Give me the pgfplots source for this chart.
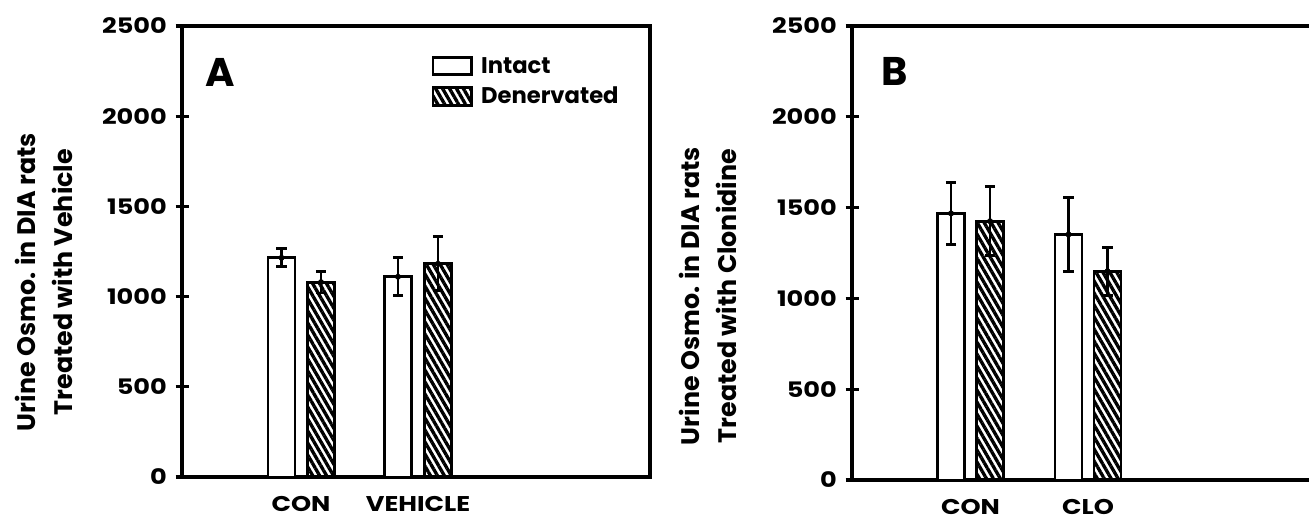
\documentclass[border=0pt]{standalone}
\usepackage{fontspec}
\setmainfont{Poppins}
\newfontfamily\tickfont{Poppins}[FakeStretch=1.2]
\usepackage{pgfplots}
\pgfplotsset{compat=1.18}
\usetikzlibrary{patterns.meta}

\pgfplotsset{
  panel/.style={
    scale only axis,
    ymin=0, ymax=2500,
    ytick={0,500,1000,1500,2000,2500},
    /pgf/number format/1000 sep={},
    /pgf/number format/assume math mode=true,
    tick align=center,
    major tick length=9.75pt,
    ytick style={black, line width=2.4pt},
    xtick style={draw=none},
    axis line style={line width=2.6pt, line cap=rect},
    y tick label style={font=\tickfont\fontsize{16}{19}\selectfont\bfseries, xshift=-3pt},
    x tick label style={font=\tickfont\fontsize{16}{19}\selectfont\bfseries, yshift=-6pt},
    ylabel style={align=center, font=\fontsize{19}{27.5}\selectfont\bfseries, anchor=center},
  },
  intact/.style={ybar, bar width=27, bar shift=0pt, draw=black, line width=2.2pt, fill=white},
  hatched/.style={ybar, bar width=27, bar shift=0pt, draw=black, line width=2.2pt,
     pattern color=black, pattern={Lines[angle=-60,distance=4.5pt,line width=2.5pt]}},
  errs/.style={only marks, mark=none, forget plot,
     error bars/.cd, y dir=both, y explicit,
     error bar style={line width=2.2pt, black},
     error mark options={rotate=90, line width=2.2pt, black, mark size=3.9pt}},
}

\begin{document}
\begin{tikzpicture}
\path[use as bounding box] (0pt,0pt) rectangle (981.75pt,391.5pt);

% Panel A
\begin{axis}[axis lines=box, panel,
  at={(136.5pt,33.75pt)}, anchor=south west,
  width=351pt, height=338.25pt,
  xmin=0, xmax=468,
  ytick pos=left,
  xtick={119,236}, xticklabels={CON,VEHICLE},
  ylabel={Urine Osmo. in DIA rats\\Treated with Vehicle},
  ylabel style={at={(axis description cs:-0.295,0.432)}},
  legend style={draw=none, fill=none, at={(axis description cs:0.524,0.943)}, anchor=north west,
     font=\fontsize{17}{20}\selectfont\bfseries, row sep=5pt,
     /tikz/every odd column/.append style={column sep=4pt}},
  legend cell align=left,
  legend image code/.code={\draw[#1] (0pt,-6.5pt) rectangle (29pt,6.5pt);},
]
\addplot[intact] coordinates {(99.5,1215) (216,1110)};
\addlegendentry{Intact}
\addplot[hatched] coordinates {(139,1080) (256,1182)};
\addlegendentry{Denervated}
\addplot[errs] coordinates {(99.5,1215) +- (0,50) (139,1080) +- (0,60) (216,1110) +- (0,106) (256,1182) +- (0,150)};
\node[font=\fontsize{30}{36}\selectfont\bfseries] at (axis description cs:0.081,0.898) {A};
\end{axis}

% Panel B
\begin{axis}[axis x line=box, axis y line=left, panel,
  at={(639pt,31.5pt)}, anchor=south west,
  width=342.75pt, height=340.5pt,
  xmin=0, xmax=457,
  y axis line style={-}, x axis line style={-},
  xtick={118.5,236}, xticklabels={CON,CLO},
  ylabel={Urine Osmo. in DIA rats\\Treated with Clonidine},
  ylabel style={at={(axis description cs:-0.315,0.405)}},
]
\addplot[intact] coordinates {(99,1468) (216.5,1352)};
\addplot[hatched] coordinates {(138,1425) (255.5,1150)};
\addplot[errs] coordinates {(99,1468) +- (0,170) (138,1425) +- (0,190) (216.5,1352) +- (0,205) (255.5,1150) +- (0,132)};
\node[font=\fontsize{30}{36}\selectfont\bfseries] at (axis description cs:0.094,0.90) {B};
\end{axis}
\end{tikzpicture}
\end{document}
